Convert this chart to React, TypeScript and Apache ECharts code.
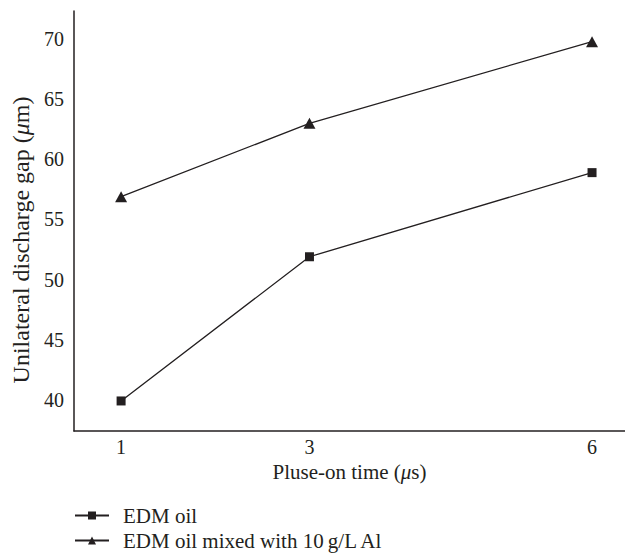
import React, { useEffect, useRef } from "react";
import * as echarts from "echarts";

const pulseOnTimes = [1, 3, 6];
const edmOil = [39.9, 51.9, 58.9];
const edmOilAl = [56.9, 63.0, 69.8];
const yTicks = [40, 45, 50, 55, 60, 65, 70];
const xTicks = [1, 3, 6];
const seriesNames = ["EDM oil", "EDM oil mixed with 10\u2009g/L Al"];

const FONT = "'Liberation Serif', 'Times New Roman', serif";
const INK = "#231f20";

export default function App() {
  const ref = useRef<HTMLDivElement>(null);
  useEffect(() => {
    if (!ref.current) return;
    const chart = echarts.init(ref.current, null, { renderer: "svg" });
    chart.setOption({
      animation: false,
      backgroundColor: "#ffffff",
      textStyle: { fontFamily: FONT, color: INK },
      grid: {
        left: 74,
        top: 11,
        right: 0,
        bottom: 123,
        containLabel: false,
        outerBoundsMode: "none",
      },
      xAxis: {
        type: "value",
        min: 0.5,
        max: 6.35,
        axisLine: { show: true, lineStyle: { color: INK, width: 1.5 } },
        axisTick: { show: false },
        splitLine: { show: false },
        axisLabel: {
          customValues: xTicks,
          fontFamily: FONT,
          fontSize: 20,
          color: INK,
          margin: 6,
        },
        name: "Pluse-on time ({i|\u03bc}s)",
        nameLocation: "middle",
        nameGap: 28,
        nameTextStyle: {
          fontFamily: FONT,
          fontSize: 21,
          color: INK,
          rich: { i: { fontFamily: FONT, fontSize: 21, fontStyle: "italic", color: INK } },
        },
      },
      yAxis: {
        type: "value",
        min: 37.4,
        max: 72.35,
        axisLine: { show: true, lineStyle: { color: INK, width: 1.5 } },
        axisTick: { show: false },
        splitLine: { show: false },
        axisLabel: {
          customValues: yTicks,
          fontFamily: FONT,
          fontSize: 20,
          color: INK,
          margin: 10,
        },
        name: "Unilateral discharge gap ({i|\u03bc}m)",
        nameLocation: "middle",
        nameGap: 38,
        nameTextStyle: {
          fontFamily: FONT,
          fontSize: 24,
          color: INK,
          padding: [0, 38, 0, 0],
          rich: { i: { fontFamily: FONT, fontSize: 24, fontStyle: "italic", color: INK } },
        },
      },
      legend: {
        orient: "vertical",
        left: 74,
        top: 505,
        height: 60,
        padding: 0,
        itemWidth: 34,
        itemHeight: 10,
        itemGap: 4,
        textStyle: {
          fontFamily: FONT,
          fontSize: 21,
          color: INK,
          padding: [0, 0, 0, 9],
        },
        data: seriesNames,
      },
      series: [
        {
          name: seriesNames[0],
          type: "line",
          data: pulseOnTimes.map((x, i) => [x, edmOil[i]]),
          symbol: "rect",
          symbolSize: 9,
          lineStyle: { color: INK, width: 1.3 },
          itemStyle: { color: INK },
        },
        {
          name: seriesNames[1],
          type: "line",
          data: pulseOnTimes.map((x, i) => [x, edmOilAl[i]]),
          symbol: "triangle",
          symbolSize: [12, 11],
          lineStyle: { color: INK, width: 1.3 },
          itemStyle: { color: INK },
        },
      ],
    });
    return () => chart.dispose();
  }, []);
  return (
    <div
      ref={ref}
      style={{ position: "fixed", left: 0, top: 0, width: 625, height: 554, background: "#fff" }}
    />
  );
}
